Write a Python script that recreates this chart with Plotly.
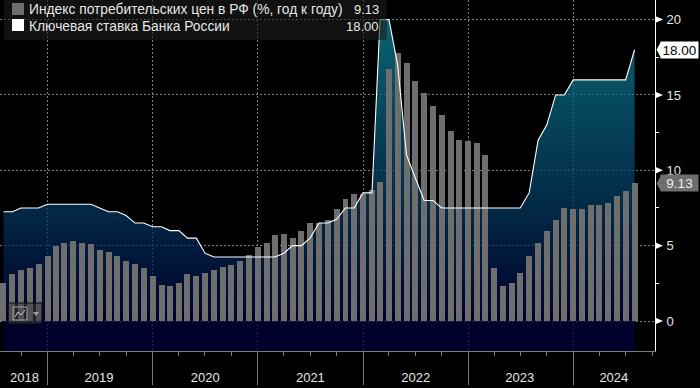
import pandas as pd
import plotly.graph_objects as go

FONT = "Liberation Sans"
dates = pd.date_range("2018-07-31", periods=73, freq="ME")
cpi = [2.5, 3.1, 3.4, 3.5, 3.8, 4.3,
       5.0, 5.2, 5.3, 5.2, 5.1, 4.7, 4.6, 4.3, 4.0, 3.8, 3.5, 3.0,
       2.4, 2.3, 2.5, 3.1, 3.0, 3.2, 3.4, 3.6, 3.7, 4.0, 4.4, 4.9,
       5.2, 5.7, 5.8, 5.5, 6.0, 6.5, 6.5, 6.7, 7.4, 8.1, 8.4, 8.4,
       8.7, 9.2, 16.7, 17.8, 17.1, 15.9, 15.1, 14.3, 13.7, 12.6, 12.0, 11.96,
       11.8, 11.0, 3.5, 2.3, 2.5, 3.2, 4.3, 5.2, 6.0, 6.7, 7.5, 7.4,
       7.4, 7.7, 7.7, 7.8, 8.3, 8.6, 9.13]
key_rate = [7.25, 7.25, 7.5, 7.5, 7.5, 7.75,
            7.75, 7.75, 7.75, 7.75, 7.75, 7.5, 7.25, 7.25, 7.0, 6.5, 6.5, 6.25,
            6.25, 6.0, 6.0, 5.5, 5.5, 4.5, 4.25, 4.25, 4.25, 4.25, 4.25, 4.25,
            4.25, 4.25, 4.5, 5.0, 5.0, 5.5, 6.5, 6.5, 6.75, 7.5, 7.5, 8.5,
            8.5, 20.0, 20.0, 17.0, 11.0, 9.5, 8.0, 8.0, 7.5, 7.5, 7.5, 7.5,
            7.5, 7.5, 7.5, 7.5, 7.5, 7.5, 8.5, 12.0, 13.0, 15.0, 15.0, 16.0,
            16.0, 16.0, 16.0, 16.0, 16.0, 16.0, 18.0]
year_ends = ["2018-12-31", "2019-12-31", "2020-12-31", "2021-12-31", "2022-12-31", "2023-12-31"]
year_labels = ["2018", "2019", "2020", "2021", "2022", "2023", "2024"]
year_label_pos = ["2018-10-12", "2019-06-28", "2020-07-01", "2021-07-01", "2022-07-02", "2023-06-28", "2024-05-20"]
quarter_ticks = [str(d.date()) for d in pd.date_range("2018-09-30", "2024-09-30", freq="QE")]
y_major = [0, 5, 10, 15, 20]
y_minor = [2.5, 7.5, 12.5, 17.5]
legend_names = ["Индекс потребительских цен в РФ (%, год к году)", "Ключевая ставка Банка России"]

XR = ["2018-07-19", "2024-10-10"]
YR = [-1.99, 21.3]
GRID = "#7c7c7c"
AXC = "#7a7a7a"
baseline = [YR[0]] * len(dates)
W, H = 655.5, 351.0

fig = go.Figure()
fig.add_scatter(x=dates, y=baseline, mode="lines", line=dict(width=0), hoverinfo="skip", xaxis="x", yaxis="y")
fig.add_scatter(x=dates, y=key_rate, mode="lines", line=dict(width=0), fill="tonexty",
                fillgradient=dict(type="vertical", start=YR[0], stop=20.0,
                                  colorscale=[[0, "rgba(0,0,56,0.72)"], [0.1, "rgba(0,3,62,0.72)"],
                                              [0.45, "rgba(3,60,98,0.72)"], [1, "rgba(14,136,155,0.72)"]]),
                hoverinfo="skip", xaxis="x", yaxis="y")
fig.add_bar(x=dates, y=cpi, width=1.8e9, marker=dict(color="#6e6e6e", line=dict(width=0)),
            name=legend_names[0], xaxis="x", yaxis="y2")
fig.add_scatter(x=dates, y=key_rate, mode="lines", line=dict(color="white", width=1.1),
                name=legend_names[1], xaxis="x", yaxis="y3")
# year labels on a second x axis
fig.add_scatter(x=year_label_pos, y=[0] * 7, mode="markers", marker=dict(opacity=0), hoverinfo="skip",
                xaxis="x2", yaxis="y3")

fig.update_layout(
    width=700, height=388, autosize=False, showlegend=False, bargap=0,
    paper_bgcolor="black", plot_bgcolor="black",
    margin=dict(l=0, r=700 - W, t=0, b=388 - H, pad=0),
    font=dict(family=FONT, color="#e6e6e6", size=13),
    xaxis=dict(type="date", range=XR, tickvals=year_ends, showticklabels=False,
               ticks="outside", ticklen=33, tickcolor=AXC, tickwidth=1,
               showgrid=True, gridcolor=GRID, griddash="2px,2px", gridwidth=1,
               showline=True, linecolor=AXC, linewidth=1, zeroline=False,
               minor=dict(tickvals=quarter_ticks, ticks="outside", ticklen=4, tickcolor=AXC, showgrid=False)),
    xaxis2=dict(type="date", range=XR, overlaying="x", anchor="y", side="bottom", tickvals=year_label_pos,
                ticktext=year_labels, ticks="outside", ticklen=14, tickcolor="rgba(0,0,0,0)",
                showgrid=False, showline=False, zeroline=False, tickfont=dict(size=13, color="#e6e6e6")),
    yaxis=dict(range=YR, side="right", tickvals=y_major, ticktext=[str(v) for v in y_major],
               ticks="outside", ticklen=8, tickcolor="rgba(0,0,0,0)", showline=True, linecolor="white", linewidth=1,
               showgrid=True, gridcolor=GRID, griddash="2px,2px", gridwidth=1, zeroline=False,
               tickfont=dict(size=13, color="#e6e6e6"),
               minor=dict(tickvals=y_minor, ticks="outside", ticklen=3, tickcolor="white", showgrid=False)),
    yaxis2=dict(range=YR, overlaying="y", side="right", visible=False),
    yaxis3=dict(range=YR, overlaying="y", side="right", visible=False),
    hovermode=False,
)

# legend panel, swatches and chart-type widget
shapes = [
    dict(type="rect", xref="paper", yref="paper", x0=4 / W, x1=387 / W, y0=1 - 40 / H, y1=1.0, layer="above",
         fillcolor="rgba(28,28,28,0.6)", line=dict(width=0)),
    dict(type="rect", xref="paper", yref="paper", x0=12 / W, x1=24 / W, y0=1 - 15 / H, y1=1 - 3 / H, layer="above",
         fillcolor="#6e6e6e", line=dict(width=0)),
    dict(type="rect", xref="paper", yref="paper", x0=12 / W, x1=24 / W, y0=1 - 31 / H, y1=1 - 19 / H, layer="above",
         fillcolor="white", line=dict(width=0)),
    dict(type="rect", xref="paper", yref="paper", x0=8 / W, x1=42 / W, y0=1 - 324 / H, y1=1 - 303 / H, layer="above",
         fillcolor="rgba(60,60,60,0.55)", line=dict(color="#0a0a0a", width=1)),
    dict(type="rect", xref="paper", yref="paper", x0=13 / W, x1=27 / W, y0=1 - 320 / H, y1=1 - 307 / H, layer="above",
         fillcolor="rgba(0,0,0,0)", line=dict(color="#a0a0a0", width=1)),
    dict(type="path", xref="paper", yref="paper", layer="above", line=dict(color="#c8c8c8", width=1),
         path=f"M {15/W} {1-317/H} L {18/W} {1-312/H} L {21/W} {1-315/H} L {25/W} {1-310/H}"),
    dict(type="path", xref="paper", yref="paper", layer="above", line=dict(width=0), fillcolor="#a0a0a0",
         path=f"M {33/W} {1-312/H} L {39/W} {1-312/H} L {36/W} {1-316/H} Z"),
]
# white pointers on the value axis, anchored to the tick values
for v in y_major:
    shapes.append(dict(type="path", layer="above", xref="paper", yref="y", xsizemode="pixel", ysizemode="pixel",
                       xanchor=1.0, yanchor=v, path="M 0 -3.5 L 8 0 L 0 3.5 Z", fillcolor="white", line=dict(width=0)))
# chevrons on the last-value tags
for v, c in [(key_rate[-1], "white"), (cpi[-1], "#6e6e6e")]:
    shapes.append(dict(type="path", layer="above", xref="paper", yref="y", xsizemode="pixel", ysizemode="pixel",
                       xanchor=1.0, yanchor=v, path="M 1.5 0 L 6 -8 L 6 8 Z", fillcolor=c, line=dict(width=0)))
fig.update_layout(shapes=shapes)


def px_note(text, x, y, anchor="left", color="#e6e6e6", size=13.8):
    fig.add_annotation(text=text, xref="paper", yref="paper", x=x / W, y=1 - y / H, xanchor=anchor, yanchor="middle",
                       showarrow=False, font=dict(family=FONT, size=size, color=color), borderpad=0)


px_note(legend_names[0], 28, 10)
px_note(legend_names[1], 28, 26)
px_note(f"{cpi[-1]:.2f}", 380, 10, "right", size=13)
px_note(f"{key_rate[-1]:.2f}", 380, 26, "right", size=13)

for val, bg, fg in [(key_rate[-1], "white", "black"), (cpi[-1], "#6e6e6e", "#f0f0f0")]:
    fig.add_annotation(text=f"{val:.2f}", xref="paper", yref="y", x=661 / W, y=val, xanchor="left", yanchor="middle",
                       showarrow=False, bgcolor=bg, width=37, height=16, borderpad=0,
                       font=dict(family=FONT, size=13.5, color=fg))

fig.write_html("out.html", config=dict(displayModeBar=False, staticPlot=True),
               post_script="document.body.style.margin='0';document.body.style.background='black';document.body.style.overflow='hidden';")
